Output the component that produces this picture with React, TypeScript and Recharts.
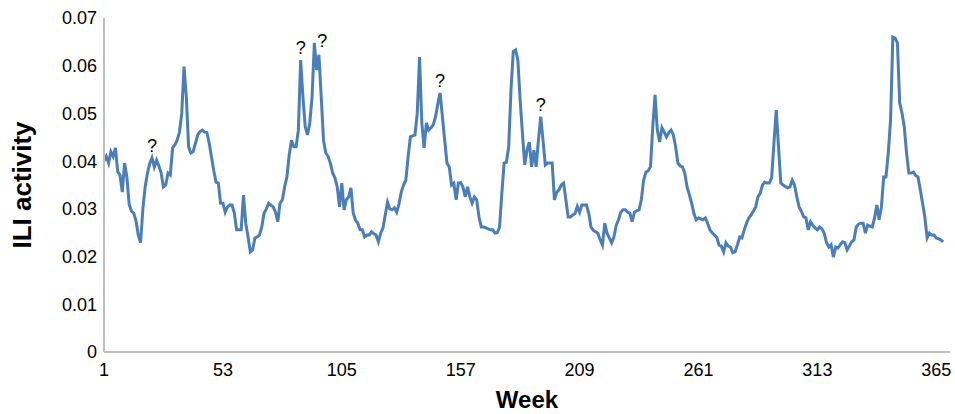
import { LineChart, Line, XAxis, YAxis, ReferenceDot } from 'recharts';

// weekly ILI activity, weeks 1..368
const ili = [
  0.040, 0.041, 0.0396, 0.042, 0.041, 0.0428, 0.0378, 0.0371, 0.0335, 0.0396,
  0.0367, 0.031, 0.0295, 0.0291, 0.0275, 0.0245, 0.0229, 0.030, 0.0346, 0.0375,
  0.0395, 0.0407, 0.0388, 0.0402, 0.039, 0.0375, 0.0346, 0.035, 0.0375, 0.0371,
  0.0428, 0.0434, 0.0444, 0.0461, 0.050, 0.0598, 0.0535, 0.043, 0.0417, 0.042,
  0.0438, 0.0455, 0.0462, 0.0465, 0.0461, 0.046, 0.0438, 0.0409, 0.038, 0.0356,
  0.0354, 0.0312, 0.0312, 0.0293, 0.0304, 0.0308, 0.0308, 0.0291, 0.0256, 0.0256,
  0.0256, 0.0329, 0.027, 0.0241, 0.021, 0.0214, 0.0239, 0.0241, 0.0245, 0.0262,
  0.0291, 0.030, 0.0312, 0.0308, 0.0304, 0.0293, 0.0273, 0.0312, 0.0319, 0.0346,
  0.0367, 0.0413, 0.0444, 0.043, 0.043, 0.0465, 0.0612, 0.0535, 0.0472, 0.0455,
  0.048, 0.0535, 0.0648, 0.0591, 0.0623, 0.0535, 0.0444, 0.0417, 0.041, 0.0396,
  0.0375, 0.0365, 0.0346, 0.0304, 0.0354, 0.0298, 0.0319, 0.0325, 0.0344, 0.0291,
  0.0277, 0.027, 0.0256, 0.0256, 0.0241, 0.0245, 0.0245, 0.0252, 0.0248, 0.0245,
  0.0231, 0.0249, 0.026, 0.0287, 0.0314, 0.030, 0.0298, 0.0302, 0.0293, 0.031,
  0.0335, 0.035, 0.036, 0.0409, 0.0451, 0.0453, 0.0455, 0.050, 0.0618, 0.048,
  0.0428, 0.048, 0.0465, 0.047, 0.0476, 0.0493, 0.052, 0.0543, 0.0493, 0.0444,
  0.0396, 0.0388, 0.035, 0.0354, 0.0319, 0.0354, 0.0355, 0.0346, 0.0325, 0.0346,
  0.0325, 0.0312, 0.0325, 0.0319, 0.0283, 0.0262, 0.0262, 0.026, 0.0258, 0.0256,
  0.0256, 0.0249, 0.025, 0.0262, 0.0333, 0.0396, 0.0398, 0.043, 0.0549, 0.063,
  0.0633, 0.0612, 0.0528, 0.0459, 0.0392, 0.0423, 0.044, 0.0388, 0.0423, 0.0388,
  0.0444, 0.0493, 0.0444, 0.0392, 0.0396, 0.0396, 0.0396, 0.0319, 0.0335, 0.034,
  0.035, 0.0354, 0.0319, 0.0283, 0.0283, 0.0287, 0.029, 0.0305, 0.0293, 0.0308,
  0.0308, 0.0308, 0.0291, 0.0262, 0.0255, 0.0252, 0.0249, 0.0235, 0.0224, 0.027,
  0.0249, 0.0239, 0.0229, 0.0241, 0.0265, 0.0277, 0.0293, 0.0298, 0.0298, 0.0293,
  0.0291, 0.0273, 0.0293, 0.0296, 0.0298, 0.0319, 0.036, 0.0377, 0.038, 0.0388,
  0.0472, 0.0539, 0.0465, 0.044, 0.047, 0.0461, 0.0451, 0.046, 0.0465, 0.0455,
  0.043, 0.0396, 0.039, 0.0388, 0.0375, 0.0346, 0.033, 0.0312, 0.029, 0.0277,
  0.0281, 0.0279, 0.0277, 0.0281, 0.027, 0.0256, 0.025, 0.0245, 0.024, 0.0224,
  0.0222, 0.021, 0.0229, 0.0222, 0.022, 0.0208, 0.021, 0.0224, 0.0241, 0.0239,
  0.0256, 0.027, 0.0281, 0.0287, 0.0295, 0.0304, 0.0325, 0.0333, 0.035, 0.0356,
  0.0354, 0.0354, 0.0365, 0.0438, 0.0507, 0.043, 0.0354, 0.035, 0.0347, 0.0344,
  0.0346, 0.036, 0.035, 0.0325, 0.0304, 0.0295, 0.0283, 0.0281, 0.0256, 0.0273,
  0.0266, 0.026, 0.0256, 0.0262, 0.0258, 0.0249, 0.0229, 0.022, 0.0225, 0.0199,
  0.022, 0.0218, 0.0225, 0.0231, 0.0229, 0.0214, 0.0222, 0.0231, 0.0235, 0.0262,
  0.0268, 0.027, 0.027, 0.0249, 0.0266, 0.0264, 0.0262, 0.0281, 0.0308, 0.0277,
  0.0304, 0.0367, 0.0367, 0.0417, 0.0486, 0.066, 0.0658, 0.0648, 0.0522, 0.0501,
  0.0472, 0.0417, 0.0375, 0.0375, 0.0377, 0.037, 0.0367, 0.034, 0.0312, 0.0283,
  0.0239, 0.0249, 0.0245, 0.0245, 0.0239, 0.0237, 0.0235, 0.0231,
];

const weekTicks = [1, 53, 105, 157, 209, 261, 313, 365];
const yTicks = [0, 0.01, 0.02, 0.03, 0.04, 0.05, 0.06, 0.07];

// weeks marked with a "?" in the original figure
const questionWeeks = [22, 87, 93, 148, 192];

const data = ili.map((v, i) => ({ week: i + 1, ili: v }));

const FONT = '"Liberation Sans", Arial, sans-serif';
const AXIS = '#bfbfbf';

export default function App() {
  // pinned to the page corner so the body margin can't push it into a scrollbar
  return (
    <div style={{ position: 'absolute', left: 0, top: 0, width: 955, height: 414, fontFamily: FONT }}>
      <LineChart
        width={955}
        height={414}
        data={data}
        margin={{ top: 18, right: 5, left: 0, bottom: 0 }}
      >
        <XAxis
          dataKey="week"
          type="number"
          domain={[1, 371]}
          ticks={weekTicks}
          interval={0}
          height={62}
          tickLine={false}
          tickSize={5}
          tickMargin={6}
          axisLine={{ stroke: AXIS, strokeWidth: 2 }}
          tick={{ fontSize: 18, fill: '#000', fontFamily: FONT }}
          label={{
            value: 'Week',
            position: 'insideBottom',
            offset: 6,
            style: { fontSize: 24, fontWeight: 'bold', fill: '#000', fontFamily: FONT },
          }}
        />
        <YAxis
          type="number"
          domain={[0, 0.07]}
          ticks={yTicks}
          interval={0}
          width={104}
          tickLine={false}
          tickSize={5}
          tickMargin={2}
          axisLine={{ stroke: AXIS, strokeWidth: 2 }}
          tick={{ fontSize: 18, fill: '#000', fontFamily: FONT }}
          tickFormatter={(v: number) => (v === 0 ? '0' : v.toFixed(2))}
          label={{
            value: 'ILI activity',
            angle: -90,
            position: 'center',
            dx: -30,
            style: { fontSize: 26, fontWeight: 'bold', fill: '#000', fontFamily: FONT, textAnchor: 'middle' },
          }}
        />
        <Line
          type="linear"
          dataKey="ili"
          stroke="#4a7ebb"
          strokeWidth={3}
          dot={false}
          isAnimationActive={false}
        />
        {questionWeeks.map((w) => (
          <ReferenceDot
            key={w}
            x={w}
            y={ili[w - 1]}
            r={0}
            ifOverflow="visible"
            label={{
              value: '?',
              position: 'top',
              offset: w === 93 ? -4 : 6,
              dx: w === 93 ? 8 : 0,
              fill: '#000',
              fontSize: 18,
              fontFamily: FONT,
            }}
          />
        ))}
      </LineChart>
    </div>
  );
}
